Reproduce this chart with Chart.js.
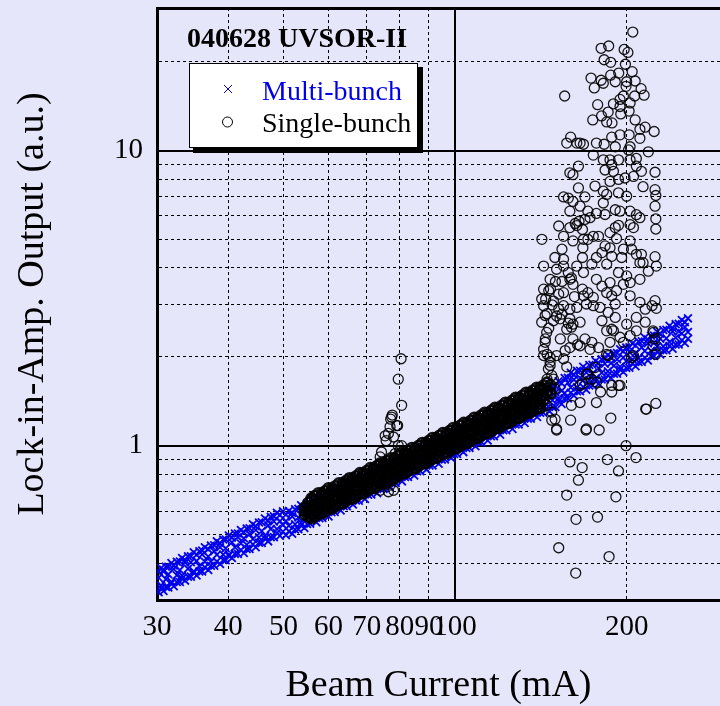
<!DOCTYPE html>
<html>
<head>
<meta charset="utf-8">
<script src="https://cdn.jsdelivr.net/npm/chart.js@4.4.0/dist/chart.umd.min.js"></script>
<style>
  html, body { margin: 0; padding: 0; background: #e6e6fa; overflow: hidden; }
  canvas { display: block; }
</style>
</head>
<body>
<canvas id="chart" width="720" height="706"></canvas>
<script>
// axis ticks / grid positions
const xTicks = [30, 40, 50, 60, 70, 80, 90, 100, 200];
const xSolid = [100];
const yTicks = [0.4, 0.5, 0.6, 0.7, 0.8, 0.9, 1, 2, 3, 4, 5, 6, 7, 8, 9, 10, 20];
const yLabels = [1, 10];
const ySolid = [1, 10];

const chartTitle = '040628 UVSOR-II';
const seriesNames = ['Multi-bunch', 'Single-bunch'];

// multi-bunch (blue crosses): [beam current, output values read at that current]
const multiBunch = [
  [30.2,0.357,0.375,0.319],[30.5,0.336,0.385,0.329],[30.8,0.375,0.379,0.322],[31.1,0.353,0.389,0.332],
  [31.4,0.367,0.389,0.331],[31.8,0.346,0.400,0.342],[32.1,0.382,0.393,0.334],[32.5,0.364,0.404,0.345],
  [32.9,0.379,0.405,0.345],[33.2,0.363,0.416,0.355],[33.6,0.402,0.410,0.349],[34.0,0.383,0.422,0.360],
  [34.4,0.403,0.422,0.360],[34.8,0.375,0.435,0.371],[35.2,0.407,0.427,0.363],[35.6,0.391,0.439,0.375],
  [36.0,0.428,0.441,0.375],[36.4,0.404,0.453,0.387],[36.9,0.421,0.446,0.379],[37.3,0.404,0.459,0.392],
  [37.8,0.439,0.460,0.392],[38.2,0.427,0.474,0.405],[38.7,0.453,0.467,0.397],[39.2,0.428,0.481,0.410],
  [39.6,0.449,0.481,0.409],[40.1,0.428,0.496,0.424],[40.6,0.471,0.489,0.416],[41.1,0.453,0.504,0.430],
  [41.6,0.490,0.504,0.430],[42.1,0.466,0.518,0.443],[42.6,0.486,0.509,0.433],[43.1,0.462,0.524,0.447],
  [43.6,0.501,0.525,0.447],[44.2,0.483,0.542,0.463],[44.7,0.518,0.533,0.453],[45.3,0.489,0.549,0.469],
  [45.8,0.514,0.550,0.468],[46.4,0.494,0.567,0.484],[47.0,0.537,0.557,0.474],[47.5,0.522,0.574,0.490],
  [48.1,0.554,0.576,0.490],[48.7,0.522,0.592,0.506],[49.3,0.555,0.582,0.495],[49.9,0.539,0.600,0.512],
  [50.5,0.556,0.583,0.497],[51.1,0.535,0.601,0.513],[51.8,0.575,0.592,0.503],[52.4,0.542,0.609,0.520],
  [53.1,0.571,0.611,0.521],[53.7,0.548,0.628,0.537],[54.4,0.595,0.618,0.526],[55.0,0.578,0.637,0.543],
  [55.7,0.615,0.638,0.544],[56.4,0.580,0.658,0.562],[57.1,0.616,0.646,0.550],[57.8,0.587,0.666,0.568],
  [58.5,0.637,0.667,0.569],[59.2,0.619,0.688,0.588],[60.0,0.646,0.677,0.576],[60.7,0.621,0.698,0.595],
  [61.5,0.674,0.700,0.596],[62.2,0.642,0.721,0.616],[63.0,0.670,0.709,0.603],[63.8,0.643,0.730,0.623],
  [64.6,0.698,0.732,0.624],[65.4,0.672,0.755,0.645],[66.2,0.722,0.743,0.632],[67.0,0.680,0.764,0.652],
  [67.8,0.722,0.765,0.651],[68.7,0.710,0.789,0.674],[69.5,0.747,0.776,0.660],[70.4,0.704,0.799,0.682],
  [71.3,0.757,0.801,0.683],[72.1,0.735,0.825,0.705],[73.0,0.788,0.811,0.690],[74.0,0.744,0.836,0.713],
  [74.9,0.784,0.838,0.714],[75.8,0.754,0.864,0.738],[76.8,0.818,0.850,0.723],[77.7,0.795,0.875,0.747],
  [78.7,0.846,0.878,0.748],[79.7,0.798,0.905,0.774],[80.7,0.849,0.890,0.757],[81.7,0.825,0.918,0.783],
  [82.7,0.877,0.919,0.783],[83.7,0.826,0.946,0.808],[84.8,0.880,0.932,0.793],[85.8,0.855,0.960,0.819],
  [86.9,0.927,0.962,0.820],[88.0,0.883,0.991,0.847],[89.1,0.930,0.976,0.830],[90.2,0.885,1.005,0.857],
  [91.3,0.960,1.007,0.857],[92.5,0.934,1.037,0.886],[93.6,0.992,1.021,0.868],[94.8,0.935,1.051,0.897],
  [96.0,0.996,1.054,0.898],[97.2,0.966,1.085,0.927],[98.4,1.028,1.068,0.908],[99.6,0.969,1.100,0.938],
  [100.8,1.030,1.102,0.938],[102.1,1.001,1.135,0.970],[103.4,1.087,1.118,0.951],[104.7,1.035,1.151,0.982],
  [106.0,1.090,1.155,0.983],[107.3,1.038,1.189,1.016],[108.6,1.126,1.170,0.995],[110.0,1.095,1.206,1.029],
  [111.3,1.162,1.206,1.028],[112.7,1.097,1.244,1.063],[114.1,1.167,1.224,1.041],[115.6,1.134,1.261,1.076],
  [117.0,1.206,1.265,1.077],[118.5,1.137,1.302,1.113],[120.0,1.210,1.282,1.090],[121.5,1.176,1.321,1.127],
  [123.0,1.274,1.323,1.127],[124.5,1.227,1.363,1.165],[126.1,1.278,1.341,1.140],[127.7,1.218,1.383,1.180],
  [129.3,1.321,1.386,1.180],[130.9,1.272,1.428,1.220],[132.5,1.364,1.404,1.194],[134.2,1.288,1.448,1.235],
  [135.8,1.356,1.449,1.235],[137.5,1.304,1.494,1.277],[139.3,1.415,1.470,1.250],[141.0,1.375,1.514,1.292],
  [142.8,1.462,1.518,1.294],[144.6,1.379,1.564,1.337],[146.4,1.467,1.539,1.309],[148.2,1.426,1.586,1.353],
  [150.0,1.515,1.589,1.353],[151.9,1.444,1.654,1.414],[153.8,1.536,1.627,1.384],[155.7,1.507,1.694,1.445],
  [157.7,1.635,1.698,1.446],[159.6,1.574,1.767,1.510],[161.6,1.674,1.739,1.479],[163.7,1.578,1.792,1.529],
  [165.7,1.695,1.795,1.529],[167.8,1.665,1.850,1.581],[169.9,1.769,1.820,1.548],[172.0,1.668,1.875,1.600],
  [174.2,1.757,1.879,1.601],[176.4,1.690,1.936,1.654],[178.6,1.834,1.906,1.621],[180.8,1.765,1.963,1.675],
  [183.1,1.895,1.968,1.676],[185.4,1.788,2.027,1.732],[187.7,1.901,1.994,1.696],[190.0,1.866,2.055,1.753],
  [192.4,1.964,2.060,1.754],[194.8,1.852,2.122,1.813],[197.3,1.991,2.089,1.776],[199.7,1.934,2.151,1.835],
  [202.2,2.076,2.156,1.836],[204.8,1.958,2.221,1.898],[207.3,2.062,2.185,1.858],[209.9,1.983,2.252,1.921],
  [212.6,2.153,2.257,1.923],[215.2,2.092,2.324,1.986],[217.9,2.222,2.287,1.945],[220.7,2.098,2.358,2.012],
  [223.4,2.231,2.362,2.012],[226.2,2.168,2.433,2.079],[229.1,2.305,2.395,2.037],[231.9,2.172,2.467,2.105],
  [234.8,2.312,2.472,2.106],[237.8,2.246,2.547,2.176],[240.8,2.436,2.506,2.131],[243.8,2.321,2.581,2.202],
  [246.8,2.443,2.587,2.203],[249.9,2.398,2.664,2.277],[253.0,2.522,2.620,2.229],[256.2,2.427,2.700,2.304]
];

// single-bunch dense band: [beam current, output values read at that current]
const singleBand = [
  [54.5,0.618,0.601,0.584],[55.3,0.640,0.616,0.595,0.575],[56.0,0.663,0.654,0.611,0.586,0.568],
  [56.8,0.675,0.650,0.625,0.603,0.578],[57.6,0.690,0.646,0.639,0.620,0.589],[58.4,0.689,0.676,0.635,0.612,0.590],
  [59.2,0.701,0.681,0.649,0.623,0.600],[60.0,0.717,0.678,0.665,0.642,0.612],[60.9,0.717,0.707,0.660,0.634,0.614],
  [61.7,0.729,0.702,0.675,0.651,0.624],[62.6,0.746,0.698,0.691,0.670,0.636],[63.5,0.746,0.732,0.687,0.663,0.638],
  [64.4,0.759,0.738,0.703,0.675,0.650],[65.3,0.776,0.733,0.719,0.694,0.662],[66.2,0.775,0.764,0.714,0.685,0.663],
  [67.1,0.788,0.759,0.730,0.704,0.675],[68.1,0.807,0.755,0.747,0.725,0.688],[69.0,0.806,0.791,0.743,0.716,0.690],
  [70.0,0.821,0.798,0.760,0.730,0.703],[71.0,0.839,0.793,0.778,0.751,0.716],[72.0,0.839,0.827,0.772,0.741,0.718],
  [73.0,0.853,0.822,0.790,0.762,0.731],[74.0,0.872,0.816,0.808,0.784,0.744],[75.1,0.872,0.856,0.803,0.775,0.746],
  [76.1,0.887,0.862,0.821,0.788,0.759],[77.2,0.907,0.857,0.840,0.811,0.774],[78.3,0.907,0.895,0.836,0.802,0.776],
  [79.4,0.922,0.888,0.854,0.824,0.790],[80.5,0.944,0.883,0.875,0.849,0.805],[81.7,0.944,0.926,0.869,0.838,0.808],
  [82.8,0.960,0.933,0.889,0.853,0.822],[84.0,0.982,0.928,0.910,0.878,0.838],[85.2,0.981,0.968,0.904,0.867,0.840],
  [86.4,0.999,0.962,0.925,0.893,0.856],[87.6,1.021,0.956,0.946,0.918,0.871],[88.8,1.020,1.001,0.940,0.906,0.873],
  [90.1,1.039,1.010,0.962,0.924,0.890],[91.3,1.062,1.003,0.984,0.950,0.906],[92.6,1.061,1.046,0.977,0.938,0.908],
  [93.9,1.080,1.040,1.000,0.965,0.925],[95.2,1.103,1.032,1.022,0.992,0.941],[96.6,1.103,1.082,1.016,0.980,0.944],
  [98.0,1.123,1.092,1.040,0.998,0.962],[99.3,1.148,1.085,1.064,1.027,0.979],[100.7,1.147,1.131,1.056,1.014,0.982],
  [102.2,1.169,1.125,1.082,1.044,1.001],[103.6,1.195,1.118,1.107,1.074,1.019],[105.1,1.193,1.171,1.099,1.060,1.021],
  [106.6,1.215,1.181,1.125,1.080,1.041],[108.1,1.243,1.174,1.151,1.112,1.060],[109.6,1.242,1.224,1.143,1.097,1.063],
  [111.1,1.264,1.217,1.170,1.129,1.082],[112.7,1.292,1.209,1.197,1.161,1.102],[114.3,1.291,1.267,1.189,1.147,1.105],
  [115.9,1.314,1.278,1.217,1.168,1.126],[117.5,1.343,1.269,1.244,1.201,1.146],[119.2,1.343,1.324,1.237,1.187,1.149],
  [120.9,1.367,1.317,1.266,1.222,1.171],[122.6,1.397,1.308,1.295,1.256,1.192],[124.3,1.396,1.370,1.286,1.241,1.195],
  [126.1,1.421,1.382,1.316,1.263,1.217],[127.8,1.453,1.373,1.346,1.300,1.240],[129.6,1.452,1.432,1.337,1.283,1.243],
  [131.5,1.479,1.424,1.369,1.321,1.266],[133.3,1.512,1.415,1.401,1.359,1.290],[135.2,1.510,1.482,1.391,1.342,1.293],
  [137.1,1.537,1.494,1.423,1.366,1.316],[139.1,1.572,1.485,1.456,1.406,1.341],[141.0,1.571,1.549,1.446,1.388,1.344],
  [143.0,1.599,1.540,1.481,1.429],[145.0,1.635,1.530,1.515],[147.0,1.603,1.504]
];

// single-bunch points rising near 80 mA
const singleSpike = [
  [80.4,1.97],[79.5,1.68],[80.6,1.37],[77.6,1.27],[77.1,1.23],[79.3,1.17],[76.4,1.10],[78.0,1.07],
  [75.7,1.04],[80.6,1.0],[80.0,0.964],[74.3,0.952],[73.9,0.916],[78.5,0.94],[74.3,0.87],[73.9,0.706],
  [76.4,0.698],[78.0,0.706],[76.9,0.735],[77.4,1.25],[76.9,1.16],[79.0,1.17],[75.4,1.08],[79.5,1.0],
  [74.8,0.858],[65.5,0.756]
];

// single-bunch scattered cloud above ~140 mA
const singleCloud = [
  [205,25.2],[180.4,22.2],[186,22.6],[198,22.0],[201,21.5],[182.6,20.3],[187.5,19.9],[199,19.6],
  [173.2,17.6],[180.4,17.3],[175.5,16.3],[182,16.9],[187.5,18.0],[193.7,18.3],[204.5,18.5],[200,17.1],
  [207,17.2],[212,16.2],[214.6,15.4],[206.6,15.3],[155.7,15.3],[199.5,16.5],[197.4,15.3],[177.9,14.3],
  [189.6,14.4],[194.7,14.1],[195.3,13.3],[185.6,13.5],[180.7,13.1],[174.4,12.7],[202,13.6],[207,12.7],
  [188.5,12.4],[215.5,12.0],[223.5,11.6],[211,11.0],[194.7,11.3],[202,11.3],[159.5,11.1],[157,10.6],
  [163.5,10.6],[168,10.5],[177,10.6],[182.6,10.5],[188.3,11.1],[202.8,10.3],
  [191,17.1],[194.7,14.9],[202.8,14.5],[184.5,12.5],[211,11.8],
  [165.7,10.6],[191,10.3],[201.5,10.05],[218.3,9.9],[174.8,9.65],[187,9.3],[193.5,9.3],[164.6,8.85],
  [159,8.4],[161,8.28],[183.3,8.59],[189.6,8.5],[208,8.85],[212.3,8.5],[224.3,8.44],[198.7,8.07],
  [193.5,7.98],[187,7.86],[205.6,8.17],[164.6,7.47],[176,7.58],[182,7.28],[193.5,7.19],[213.7,7.54],
  [224.3,7.37],[225,7.04],[155,6.96],[158,6.9],[161,6.72],[169,6.96],[184.5,7.1],[200,7.0],
  [182,6.64],[177,6.12],[183.3,6.07],[159,6.23],[172.5,5.92],[169,5.84],[165,5.76],[162.5,5.66],
  [202.8,6.23],[208,6.06],[211,5.92],[224.3,6.48],[225,5.87],[225,5.42],[193.5,5.58],[205.6,5.48],
  [202.8,5.61],[159,5.48],[163.5,5.57],[167.3,5.4],[152,5.55],[155,5.12],[142,5.0],[178.5,5.12],
  [192,5.03],[202.8,4.94],[168,5.0],[167.6,4.68],[161,4.94],[183.3,4.75],[187,4.68],[154,4.63],
  [197.4,4.63],[212.3,4.45],[213.7,4.17],[224.3,4.37],[149.7,4.34],[155,4.28],[167.3,4.34],[188.3,4.38],
  [196,4.34],[143,4.06],
  [182,9.3],[188.3,8.95],[202.8,9.3],[208,9.4],[165.7,6.48],[171,6.23],[191,6.3],[194.7,6.23],
  [187,5.27],[191,5.48],[171,5.0],[174.8,5.12],[204,4.63],[208,4.45],[181,4.51],[177,4.34],
  [150.7,3.96],[163.5,4.06],[168,3.86],[173.8,4.12],[184.5,4.12],[193.5,3.86],[197.4,3.52],[211,4.17],
  [218.3,3.9],[225.5,4.06],[211,3.66],[143,3.39],[146,3.35],[144.2,3.14],[143,2.98],[148.8,3.09],
  [152,3.26],[161,3.52],[167.3,3.39],[171,3.3],[168,3.22],[174.8,3.18],[170,3.02],[174.8,2.98],
  [184.5,3.3],[188.3,3.22],[192,3.35],[202.8,3.22],[211,3.06],[215.6,2.9],[224.3,3.1],[221.6,2.98],
  [225.5,2.92],[150.7,2.75],[152.8,2.69],[148.8,2.65],[159,2.9],[163.5,2.94],[165.7,2.62],[160,2.52],
  [157,2.48],[181,2.65],[188.3,2.48],[194.7,2.33],[184.5,2.45],[191,2.72],[200,2.58],[208,2.45],
  [169,2.3],[173.8,2.24],[178.5,2.15],[172.5,2.12],[143,2.12],[145,2.04],[146.8,1.99],[150.7,2.02],
  [155,1.97],[146.8,1.87],[147.8,1.73],[145,1.68],[205.6,2.02],[222.5,2.45],[224.3,2.3],[222.5,2.18],
  [225,2.04],[171,1.75],[167.3,1.62],[177,1.64],[188.3,1.6],[193.5,1.6],
  [155,4.06],[158,3.86],[146.8,3.66],[154,3.6],[159,3.66],[177,3.66],[181,3.47],[187,3.57],
  [202.8,3.57],[200,3.76],[155,2.98],[154,2.79],[159,2.69],[161,2.58],[179.6,2.94],[185.6,2.83],
  [191,3.02],[189.6,2.45],[197.4,2.24],[202.8,2.36],[161,2.3],[165.7,2.18],[159,2.15],[187,2.24],
  [184.5,2.04],[215.6,2.62],[208,2.72],
  [160,1.37],[165.7,1.4],[177,1.4],[180,1.52],[188.3,1.52],[147.8,1.22],[150.7,1.13],[159.5,1.22],
  [169.7,1.13],[179,1.13],[187.6,1.24],[216,1.33],[225,1.39],[199.5,1.0],[207.7,0.911],[159,0.881],
  [167.1,0.843],[185,0.897],[193.5,0.821],[164.6,0.764],[157,0.68],[191.5,0.671],[163,0.563],[177.8,0.573],
  [152,0.451],[186.3,0.421],[162.8,0.37],
  [141.9,3.14],[143.9,2.76],[141.9,2.62],[144.8,2.42],[143.9,2.24],[143,2.02],[146.8,1.92],[145.8,1.82],
  [148.8,1.68],[149.8,1.56],[144.8,1.37],[147.8,1.3],[149.8,1.23],[150.7,1.14],[170,1.14],[194.7,1.6],
  [204,1.99],[216.6,1.33],[165.7,1.6],[170,1.75],[176,1.84],[185.6,2.02],[173.5,1.68],[223,2.42],
  [144,2.3],[146,2.5],[145,2.8],[148,3.0],[147,3.4],[150,3.6],[152,2.9],[153,2.3],
  [156,2.1],[158,2.6],[155,3.3],[160,3.7],[162,3.2],[164,2.2],[157,1.85]
];

const blue = 'rgb(0,0,235)';
const serif = "'Liberation Serif', 'Times New Roman', serif";

// rows of [x, y, y, ...] -> {x, y} points
function rowsToPoints(rows) {
    const pts = [];
    rows.forEach(row => {
        for (let i = 1; i < row.length; i++) {
            pts.push({ x: row[0], y: row[i] });
        }
    });
    return pts;
}

const multiPoints = rowsToPoints(multiBunch);
const bandPoints = rowsToPoints(singleBand);
const scatterPoints = rowsToPoints(singleSpike).concat(rowsToPoints(singleCloud));

// title + boxed legend inside the plot
const boxLegend = {
    id: 'boxLegend',
    afterDraw(chart) {
        const c = chart.ctx;
        c.save();
        c.font = 'bold 28px ' + serif;
        c.fillStyle = '#000';
        c.textBaseline = 'alphabetic';
        c.fillText(chartTitle, 187, 47);

        c.fillStyle = '#000';
        c.fillRect(193, 67, 230, 86);
        c.fillStyle = '#fff';
        c.fillRect(189, 63, 229, 85);
        c.strokeStyle = '#000';
        c.lineWidth = 1;
        c.strokeRect(189.5, 63.5, 228, 84);

        // cross marker
        c.strokeStyle = blue;
        c.beginPath();
        c.moveTo(224, 85); c.lineTo(232, 93);
        c.moveTo(232, 85); c.lineTo(224, 93);
        c.stroke();
        // circle marker
        c.strokeStyle = '#000';
        c.beginPath();
        c.arc(227.5, 122, 5, 0, Math.PI * 2);
        c.stroke();

        c.font = '28px ' + serif;
        c.fillStyle = blue;
        c.fillText(seriesNames[0], 262, 100);
        c.fillStyle = '#000';
        c.fillText(seriesNames[1], 262, 132);
        c.restore();
    }
};

function noPad(s) {
    s.paddingTop = 0;
    s.paddingBottom = 0;
    s.paddingLeft = 0;
    s.paddingRight = 0;
}

const circleStyle = {
    pointStyle: 'circle',
    pointRadius: 5,
    borderColor: 'rgba(0,0,0,0.9)',
    backgroundColor: 'rgba(0,0,0,0)'
};

new Chart(document.getElementById('chart'), {
    type: 'scatter',
    data: {
        datasets: [
            Object.assign({ label: seriesNames[1], data: scatterPoints, borderWidth: 1.3, order: 1 }, circleStyle),
            // the dense part of the single-bunch run: many overlapping circles read as a solid band
            Object.assign({ label: seriesNames[1], data: bandPoints, borderWidth: 2.6, order: 1 }, circleStyle),
            {
                label: seriesNames[0],
                data: multiPoints,
                pointStyle: 'crossRot',
                pointRadius: 5.5,
                borderWidth: 1.8,
                borderColor: blue,
                backgroundColor: blue,
                order: 2
            }
        ]
    },
    options: {
        responsive: false,
        animation: false,
        devicePixelRatio: 1,
        events: [],
        layout: { padding: 0, autoPadding: false },
        plugins: {
            legend: { display: false },
            tooltip: { enabled: false }
        },
        scales: {
            x: {
                type: 'logarithmic',
                position: 'bottom',
                min: 30,
                max: 291.6,
                afterBuildTicks: s => { s.ticks = xTicks.map(v => ({ value: v })); },
                afterFit: s => { s.height = 106; noPad(s); },
                ticks: {
                    autoSkip: false,
                    maxRotation: 0,
                    minRotation: 0,
                    padding: 13,
                    color: '#000',
                    font: { family: serif, size: 29, lineHeight: 1 },
                    callback: v => String(v)
                },
                grid: {
                    drawTicks: false,
                    color: '#000',
                    lineWidth: ctx => ctx.tick && xSolid.includes(ctx.tick.value) ? 2 : 1
                },
                border: {
                    display: true,
                    color: '#000',
                    width: 3,
                    dash: ctx => ctx.tick && !xSolid.includes(ctx.tick.value) ? [3, 3] : []
                },
                title: {
                    display: true,
                    text: 'Beam Current (mA)',
                    color: '#000',
                    font: { family: serif, size: 38, lineHeight: 1 },
                    padding: { top: 0, bottom: 1 }
                }
            },
            xTop: {
                type: 'linear',
                position: 'top',
                afterFit: s => { s.height = 8; noPad(s); },
                ticks: { display: false },
                grid: { display: false, drawTicks: false },
                border: { display: true, color: '#000', width: 3 }
            },
            y: {
                type: 'logarithmic',
                position: 'left',
                min: 0.304,
                max: 30.4,
                afterBuildTicks: s => { s.ticks = yTicks.map(v => ({ value: v })); },
                afterFit: s => { s.width = 157; noPad(s); },
                ticks: {
                    autoSkip: false,
                    padding: 14,
                    color: '#000',
                    font: { family: serif, size: 29, lineHeight: 1 },
                    callback: v => yLabels.includes(v) ? String(v) : ''
                },
                grid: {
                    drawTicks: false,
                    color: '#000',
                    lineWidth: ctx => ctx.tick && ySolid.includes(ctx.tick.value) ? 2 : 1
                },
                border: {
                    display: true,
                    color: '#000',
                    width: 3,
                    dash: ctx => ctx.tick && !ySolid.includes(ctx.tick.value) ? [3, 3] : []
                },
                title: {
                    display: true,
                    text: 'Lock-in-Amp. Output (a.u.)',
                    color: '#000',
                    font: { family: serif, size: 38, lineHeight: 1 },
                    padding: { top: 14, bottom: 0 }
                }
            }
        }
    },
    plugins: [boxLegend]
});
</script>
</body>
</html>
